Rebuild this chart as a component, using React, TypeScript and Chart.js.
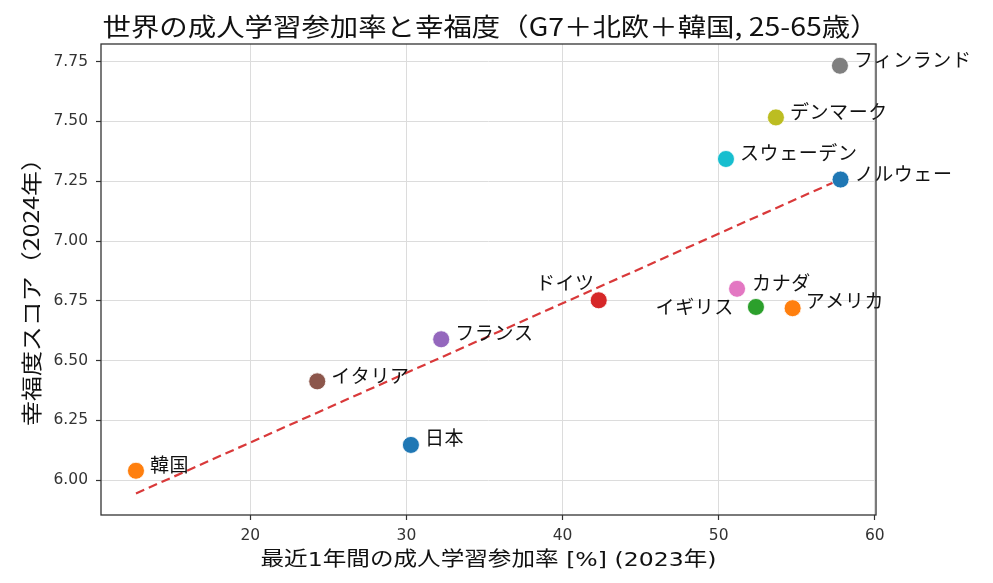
import React, { useEffect, useRef } from "react";
import { Chart, registerables } from "chart.js";

Chart.register(...registerables);

const countries = ["日本", "アメリカ", "イギリス", "ドイツ", "フランス", "イタリア", "カナダ", "フィンランド", "デンマーク", "スウェーデン", "ノルウェー", "韓国"];
const participation = [30.29, 54.74, 52.39, 42.32, 32.23, 24.29, 51.18, 57.77, 53.67, 50.47, 57.81, 12.68];
const happiness = [6.147, 6.719, 6.724, 6.752, 6.589, 6.413, 6.8, 7.733, 7.517, 7.343, 7.257, 6.039];
const trendX = [12.68, 57.81];
const trendY = [5.944, 7.258];
const xTicks = [20, 30, 40, 50, 60];
const yTicks = [6.0, 6.25, 6.5, 6.75, 7.0, 7.25, 7.5, 7.75];

const pointColors = ["#1f77b4", "#ff7f0e", "#2ca02c", "#d62728", "#9467bd", "#8c564b", "#e377c2", "#7f7f7f", "#bcbd22", "#17becf", "#1f77b4", "#ff7f0e"];
// label placement style: [dx, dy, align]
const labelStyle: [number, number, CanvasTextAlign][] = [
  [14, -7, "left"], [13, -7, "left"], [-22, 0, "right"], [-4, -18, "right"],
  [14, -6, "left"], [14, -6, "left"], [15, -6, "left"], [14, -6, "left"],
  [14, -6, "left"], [14, -6, "left"], [14, -6, "left"], [14, -6, "left"],
];

const TITLE = "世界の成人学習参加率と幸福度（G7＋北欧＋韓国, 25-65歳）";
const XLABEL = "最近1年間の成人学習参加率 [%] (2023年)";
const YLABEL = "幸福度スコア（2024年）";
const FONT = '"DejaVu Sans", "Noto Sans CJK JP", sans-serif';
const JP = '"Noto Sans CJK JP", "DejaVu Sans", sans-serif';

function drawStretched(ctx: CanvasRenderingContext2D, text: string, x: number, y: number, target: number) {
  const w = ctx.measureText(text).width;
  const sx = target / w;
  ctx.save();
  ctx.translate(x, y);
  ctx.scale(sx, 1);
  ctx.fillText(text, 0, 0);
  ctx.restore();
}

export default function App() {
  const ref = useRef<HTMLCanvasElement>(null);
  useEffect(() => {
    const canvas = ref.current!;
    const textPlugin = {
      id: "texts",
      afterDatasetsDraw(chart: any) {
        const ctx = chart.ctx;
        const meta = chart.getDatasetMeta(0);
        ctx.save();
        ctx.font = `19px ${JP}`;
        (ctx as any).letterSpacing = "0.6px";
        ctx.fillStyle = "#111";
        ctx.textBaseline = "middle";
        meta.data.forEach((pt: any, i: number) => {
          const [dx, dy, al] = labelStyle[i];
          ctx.textAlign = al;
          ctx.fillText(countries[i], pt.x + dx, pt.y + dy);
        });
        ctx.restore();
      },
      afterDraw(chart: any) {
        const ctx = chart.ctx;
        const a = chart.chartArea;
        ctx.save();
        ctx.strokeStyle = "#333";
        ctx.lineWidth = 1.3;
        ctx.strokeRect(a.left, a.top, a.right - a.left, a.bottom - a.top);
        const cx = (a.left + a.right) / 2;
        ctx.fillStyle = "#111";
        ctx.textAlign = "center";
        ctx.textBaseline = "middle";
        ctx.font = `25px ${JP}`;
        drawStretched(ctx, TITLE, cx + 2, 26, 776);
        ctx.font = `20px ${FONT}`;
        drawStretched(ctx, XLABEL, cx, 561, 456);
        ctx.translate(31, 286);
        ctx.rotate(-Math.PI / 2);
        ctx.font = `21px ${JP}`;
        drawStretched(ctx, YLABEL, 0, 0, 280);
        ctx.restore();
      },
    };
    const chart = new Chart(canvas, {
      type: "scatter",
      data: {
        datasets: [
          {
            label: "countries",
            data: participation.map((x, i) => ({ x, y: happiness[i] })),
            backgroundColor: pointColors,
            borderColor: "rgba(255,255,255,0.8)",
            borderWidth: 1,
            pointRadius: 8.5,
            order: 0,
          },
          {
            type: "line",
            label: "trend",
            data: trendX.map((x, i) => ({ x, y: trendY[i] })),
            borderColor: "#d9393a",
            borderWidth: 2.2,
            borderDash: [9, 5],
            pointRadius: 0,
            showLine: true,
            fill: false,
            order: 1,
          } as any,
        ],
      },
      options: {
        animation: false,
        responsive: true,
        maintainAspectRatio: false,
        layout: { padding: { top: 44, right: 117, left: 0, bottom: 0 } },
        plugins: { legend: { display: false }, tooltip: { enabled: false }, title: { display: false } },
        scales: {
          x: {
            type: "linear",
            min: 10.44,
            max: 60.08,
            afterFit: (s: any) => { s.height = 68; },
            afterBuildTicks: (s: any) => { s.ticks = xTicks.map((v) => ({ value: v })); },
            ticks: { font: { family: FONT, size: 15.5 }, color: "#333", padding: 7, callback: (v: any) => String(v) },
            grid: { color: "#dcdcdc", lineWidth: 1, tickLength: 5, tickColor: "#333", tickWidth: 1.2 },
            border: { display: false },
          },
          y: {
            type: "linear",
            min: 5.854,
            max: 7.824,
            afterFit: (s: any) => { s.width = 101; },
            afterBuildTicks: (s: any) => { s.ticks = yTicks.map((v) => ({ value: v })); },
            ticks: { font: { family: FONT, size: 15.5 }, color: "#333", padding: 8, callback: (v: any) => Number(v).toFixed(2) },
            grid: { color: "#dcdcdc", lineWidth: 1, tickLength: 5, tickColor: "#333", tickWidth: 1.2 },
            border: { display: false },
          },
        },
      },
      plugins: [textPlugin],
    });
    return () => chart.destroy();
  }, []);
  return (
    <div style={{ position: "absolute", left: 0, top: 0, width: 993, height: 583, background: "#fff" }}>
      <canvas ref={ref} />
    </div>
  );
}
